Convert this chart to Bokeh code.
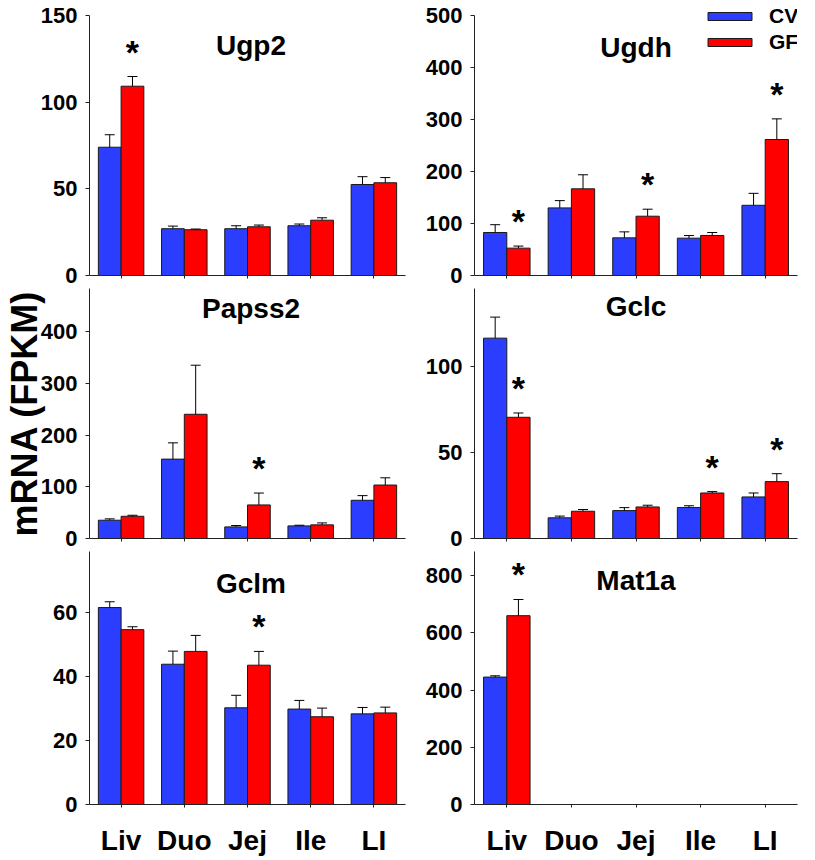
from bokeh.plotting import figure
from bokeh.models import (ColumnDataSource, Whisker, TeeHead, FixedTicker, Legend,
                          LegendItem, FactorRange, Range1d, Label)
from bokeh.transform import dodge
from bokeh.layouts import gridplot
from bokeh.core.properties import value
from bokeh.embed import file_html
from bokeh.resources import INLINE

# ---------------- data ----------------
tissues = ["Liv", "Duo", "Jej", "Ile", "LI"]
groups = ["CV", "GF"]

ugp2_cv = [74.0, 27.0, 27.0, 28.7, 52.5]
ugp2_cv_err = [7.2, 1.5, 1.7, 1.0, 4.5]
ugp2_gf = [109.2, 26.4, 28.1, 31.9, 53.5]
ugp2_gf_err = [5.6, 0.4, 1.0, 1.4, 3.0]
ugp2_sig = ["Liv"]

ugdh_cv = [82.7, 130.0, 72.4, 71.8, 135.0]
ugdh_cv_err = [15.0, 14.0, 11.5, 5.0, 23.0]
ugdh_gf = [52.6, 166.7, 114.0, 77.0, 261.5]
ugdh_gf_err = [4.0, 27.0, 13.5, 5.7, 39.7]
ugdh_sig = ["Liv", "Jej", "LI"]

papss2_cv = [35.4, 153.7, 22.5, 24.4, 74.0]
papss2_cv_err = [2.6, 31.5, 2.6, 1.3, 9.0]
papss2_gf = [43.0, 240.5, 65.0, 26.4, 103.5]
papss2_gf_err = [2.0, 95.0, 23.0, 3.8, 14.0]
papss2_sig = ["Jej"]

gclc_cv = [116.2, 12.0, 16.2, 18.0, 24.1]
gclc_cv_err = [12.2, 1.0, 1.7, 1.0, 2.3]
gclc_gf = [70.3, 15.8, 18.3, 26.4, 33.0]
gclc_gf_err = [2.5, 1.0, 1.0, 0.8, 4.6]
gclc_sig = ["Liv", "Ile", "LI"]

gclm_cv = [61.5, 43.8, 30.2, 29.8, 28.3]
gclm_cv_err = [1.8, 4.1, 3.9, 2.7, 2.0]
gclm_gf = [54.6, 47.8, 43.5, 27.4, 28.6]
gclm_gf_err = [0.9, 5.0, 4.3, 2.7, 1.8]
gclm_sig = ["Jej"]

mat1a_cv = [445.7, None, None, None, None]
mat1a_cv_err = [4.5, None, None, None, None]
mat1a_gf = [660.5, None, None, None, None]
mat1a_gf_err = [56.6, None, None, None, None]
mat1a_sig = ["Liv"]

ugp2_ticks = [0, 50, 100, 150]
ugdh_ticks = [0, 100, 200, 300, 400, 500]
papss2_ticks = [0, 100, 200, 300, 400]
gclc_ticks = [0, 50, 100]
gclm_ticks = [0, 20, 40, 60]
mat1a_ticks = [0, 200, 400, 600, 800]

axis_tops = {"Ugp2": 150, "Ugdh": 500, "Papss2": 500, "Gclc": 150, "Gclm": 80, "Mat1a": 900}
y_label = "mRNA (FPKM)"

# ---------------- style / layout ----------------
BLUE = "#2b3dff"
RED = "#ff0000"
EDGE = "#1a1a1a"
AXIS = "#222222"
FONT = "Liberation Sans"
FRAME_W = 323
ROW_FRAME_H = [275, 250, 255]
ROW_BOT = [13, 13, 52]
# visible range ends (frame may extend a little beyond the drawn axis)
Y_ENDS = {"Ugp2": 158.65, "Ugdh": 528.8, "Papss2": 484, "Gclc": 145, "Gclm": 79, "Mat1a": 885}
LEFT_B = [82, 67]
RIGHT_B = [2, 1]
TITLE_OFF = {"Ugp2": 45, "Ugdh": 47, "Papss2": 20, "Gclc": 18, "Gclm": 32, "Mat1a": 29}
BAR_W = 0.36
OFF = 0.18


def series_source(vals, errs):
    t, top, up = [], [], []
    for name, v, e in zip(tissues, vals, errs):
        if v is None:
            continue
        t.append(name)
        top.append(v)
        up.append(v + e)
    return ColumnDataSource(dict(tissue=t, top=top, upper=up))


def make_panel(gene, cv, cv_err, gf, gf_err, sig, ticks, row, col):
    lb, rb = LEFT_B[col], RIGHT_B[col]
    fh, bb = ROW_FRAME_H[row], ROW_BOT[row]
    p = figure(x_range=FactorRange(factors=tissues), y_range=Range1d(0, Y_ENDS[gene]),
               width=lb + FRAME_W + rb, height=fh + bb, title=None,
               min_border_left=lb, min_border_right=rb, min_border_top=0,
               min_border_bottom=bb, output_backend="svg", toolbar_location=None)
    p.outline_line_color = None
    p.xgrid.grid_line_color = None
    p.ygrid.grid_line_color = None

    renderers = []
    for vals, errs, color, off in [(cv, cv_err, BLUE, -OFF), (gf, gf_err, RED, OFF)]:
        src = series_source(vals, errs)
        r = p.vbar(x=dodge("tissue", off, range=p.x_range), top="top", width=BAR_W,
                   source=src, fill_color=color, line_color=EDGE, line_width=1)
        renderers.append(r)
        w = Whisker(base=dodge("tissue", off, range=p.x_range), upper="upper", lower="top",
                    source=src, dimension="height", line_color="black", line_width=1,
                    upper_head=TeeHead(size=10, line_color="black", line_width=1),
                    lower_head=None, level="overlay")
        p.add_layout(w)

    # significance marks above GF bars
    s_t, s_y = [], []
    for name, v, e in zip(tissues, gf, gf_err):
        if name in sig and v is not None:
            s_t.append(name)
            s_y.append(v + e)
    ssrc = ColumnDataSource(dict(tissue=s_t, y=s_y, mark=["*"] * len(s_t)))
    p.text(x=dodge("tissue", OFF, range=p.x_range), y="y", text="mark", source=ssrc,
           text_font=value(FONT), text_font_style="bold", text_font_size="34px",
           text_align="center", text_baseline="middle", y_offset=-25, text_color="black")

    # gene title
    p.add_layout(Label(x=FRAME_W / 2, x_units="screen", y=Y_ENDS[gene], y_units="data",
                       y_offset=-TITLE_OFF[gene], text=gene, text_font=FONT,
                       text_font_style="bold", text_font_size="28px", text_align="center",
                       text_baseline="middle", text_color="black"))

    # axes
    p.yaxis.ticker = FixedTicker(ticks=ticks)
    p.yaxis.bounds = (0, min(axis_tops[gene], Y_ENDS[gene]))
    p.yaxis.major_tick_out = 4
    p.yaxis.major_tick_in = 0
    p.yaxis.minor_tick_out = 0
    p.yaxis.minor_tick_in = 0
    p.yaxis.major_label_standoff = 8
    p.yaxis.major_label_text_font = FONT
    p.yaxis.major_label_text_font_style = "bold"
    p.yaxis.major_label_text_font_size = "22px"
    p.yaxis.major_label_text_color = "black"
    p.yaxis.axis_line_color = AXIS
    p.yaxis.major_tick_line_color = AXIS

    p.xaxis.major_tick_out = 3
    p.xaxis.major_tick_in = 0
    p.xaxis.axis_line_color = AXIS
    p.xaxis.major_tick_line_color = AXIS
    p.xaxis.major_label_standoff = 17
    p.xaxis.major_label_text_font = FONT
    p.xaxis.major_label_text_font_style = "bold"
    p.xaxis.major_label_text_font_size = "28px"
    p.xaxis.major_label_text_color = "black"
    if row < 2:
        p.xaxis.major_label_text_color = None
        p.xaxis.major_label_standoff = 0
    return p, renderers


p1, _ = make_panel("Ugp2", ugp2_cv, ugp2_cv_err, ugp2_gf, ugp2_gf_err, ugp2_sig, ugp2_ticks, 0, 0)
p2, r2 = make_panel("Ugdh", ugdh_cv, ugdh_cv_err, ugdh_gf, ugdh_gf_err, ugdh_sig, ugdh_ticks, 0, 1)
p3, _ = make_panel("Papss2", papss2_cv, papss2_cv_err, papss2_gf, papss2_gf_err, papss2_sig, papss2_ticks, 1, 0)
p4, _ = make_panel("Gclc", gclc_cv, gclc_cv_err, gclc_gf, gclc_gf_err, gclc_sig, gclc_ticks, 1, 1)
p5, _ = make_panel("Gclm", gclm_cv, gclm_cv_err, gclm_gf, gclm_gf_err, gclm_sig, gclm_ticks, 2, 0)
p6, _ = make_panel("Mat1a", mat1a_cv, mat1a_cv_err, mat1a_gf, mat1a_gf_err, mat1a_sig, mat1a_ticks, 2, 1)

# shared y-axis label on the middle-left panel
p3.yaxis.axis_label = y_label
p3.yaxis.axis_label_text_font = FONT
p3.yaxis.axis_label_text_font_style = "bold"
p3.yaxis.axis_label_text_font_size = "36px"
p3.yaxis.axis_label_text_color = "black"
p3.yaxis.axis_label_standoff = -7

legend = Legend(items=[LegendItem(label=groups[0], renderers=[r2[0]]),
                       LegendItem(label=groups[1], renderers=[r2[1]])],
                location=(228, 221), orientation="vertical",
                glyph_width=55, glyph_height=10, label_standoff=12, spacing=2,
                padding=0, margin=0, border_line_color=None, background_fill_alpha=0,
                label_text_font=FONT, label_text_font_style="bold",
                label_text_font_size="21px", label_text_color="black")
p2.add_layout(legend)

grid = gridplot([[p1, p2], [p3, p4], [p5, p6]], toolbar_location=None)

open("out.html", "w").write(file_html(grid, INLINE))
